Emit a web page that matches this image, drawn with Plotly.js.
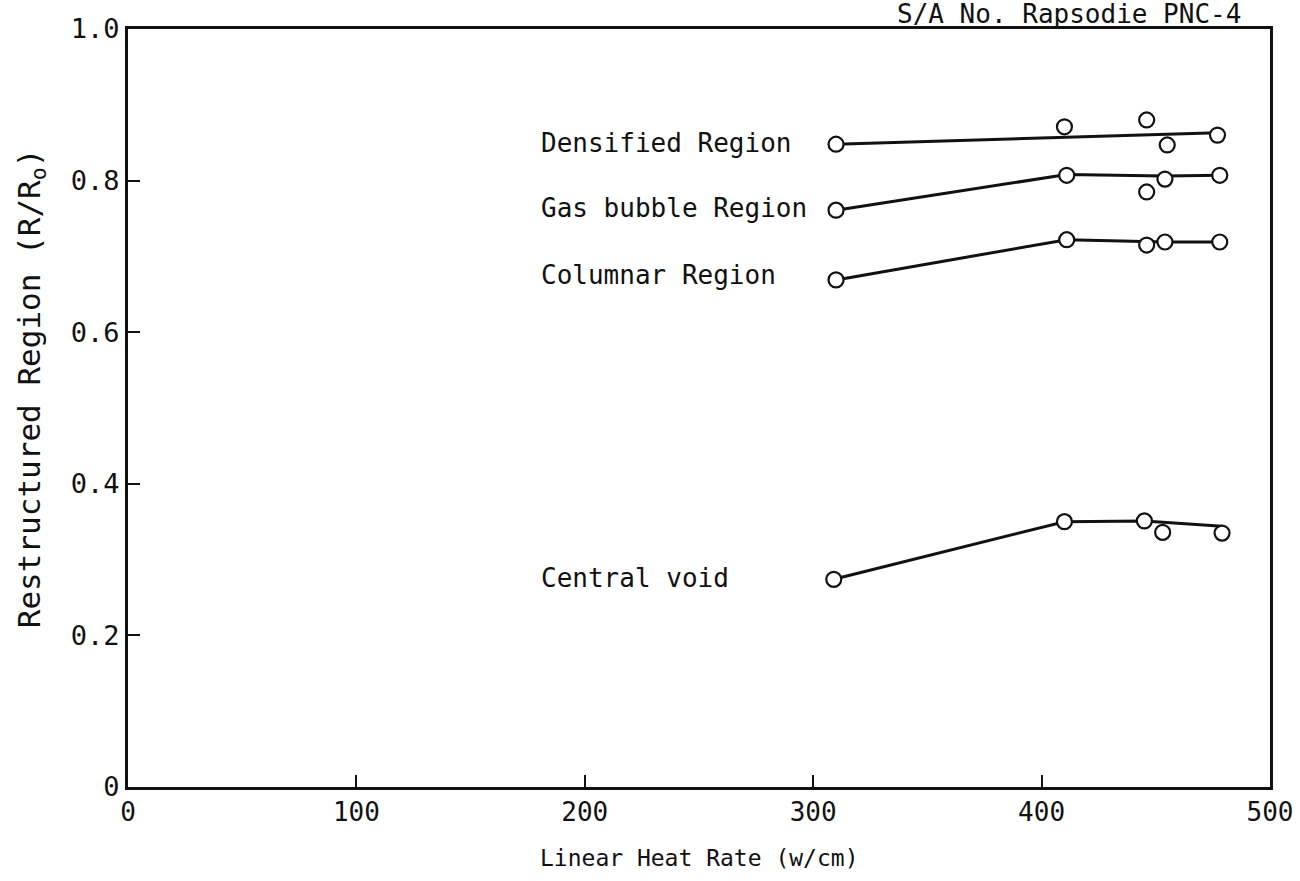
<!DOCTYPE html>
<html>
<head>
<meta charset="utf-8">
<script src="https://cdn.plot.ly/plotly-3.0.1.min.js"></script>
<style>html,body{margin:0;padding:0;background:#fff;}#chart{width:1300px;height:881px;}</style>
</head>
<body>
<div id="chart"></div>
<script>
// Measured points: Linear heat rate (w/cm) vs R/Ro
const densX = [310, 410, 446, 455, 477];
const densY = [0.848, 0.871, 0.880, 0.847, 0.860];
const gasX = [310, 411, 446, 454, 478];
const gasY = [0.761, 0.807, 0.785, 0.802, 0.807];
const colX = [310, 411, 446, 454, 478];
const colY = [0.669, 0.722, 0.715, 0.719, 0.719];
const voidX = [309, 410, 445, 453, 479];
const voidY = [0.274, 0.350, 0.351, 0.336, 0.335];

// Trend lines drawn through the data
const densLineX = [310, 477];
const densLineY = [0.848, 0.863];
const gasLineX = [310, 411, 454, 478];
const gasLineY = [0.761, 0.808, 0.806, 0.807];
const colLineX = [310, 411, 454, 478];
const colLineY = [0.669, 0.722, 0.719, 0.719];
const voidLineX = [309, 410, 445, 479];
const voidLineY = [0.274, 0.350, 0.351, 0.344];

const regionLabels = ["Densified Region", "Gas bubble Region", "Columnar Region", "Central void"];
const labelY = [0.849, 0.764, 0.675, 0.276];
const labelX = 180;

const xTicks = [0, 100, 200, 300, 400, 500];
const xTickText = ["0", "100", "200", "300", "400", "500"];
const yTicks = [0, 0.2, 0.4, 0.6, 0.8, 1.0];
const yTickText = ["0", "0.2", "0.4", "0.6", "0.8", "1.0"];

const FONT = "DejaVu Sans Mono, Liberation Mono, monospace";

function lineTrace(x, y) {
  return {x: x, y: y, mode: "lines", type: "scatter", line: {color: "#111", width: 3}, hoverinfo: "skip", showlegend: false};
}
function markTrace(x, y) {
  return {x: x, y: y, mode: "markers", type: "scatter",
    marker: {symbol: "circle", size: 15, color: "#fff", line: {color: "#111", width: 2.2}}, showlegend: false};
}

const data = [
  lineTrace(densLineX, densLineY), lineTrace(gasLineX, gasLineY),
  lineTrace(colLineX, colLineY), lineTrace(voidLineX, voidLineY),
  markTrace(densX, densY), markTrace(gasX, gasY), markTrace(colX, colY), markTrace(voidX, voidY)
];

const annotations = regionLabels.map((t, i) => ({
  text: t, x: labelX, y: labelY[i], xref: "x", yref: "y", xanchor: "left", yanchor: "middle",
  showarrow: false, font: {family: FONT, size: 26, color: "#111"}
}));
annotations.push({
  text: "S/A No. Rapsodie PNC-4", x: 488, y: 1, xref: "x", yref: "paper",
  xanchor: "right", yanchor: "bottom", yshift: -2, showarrow: false,
  font: {family: FONT, size: 26, color: "#111"}
});
annotations.push({
  text: "Linear Heat Rate (w/cm)", x: 250, y: -0.094, xref: "x", yref: "paper",
  xanchor: "center", yanchor: "middle", showarrow: false,
  font: {family: FONT, size: 23, color: "#111"}
});
annotations.push({
  text: "Restructured Region (R/R<sub>o</sub>)", x: -0.085, y: 0.526, xref: "paper", yref: "paper",
  xanchor: "center", yanchor: "middle", textangle: -90, showarrow: false,
  font: {family: FONT, size: 31, color: "#111"}
});

const layout = {
  width: 1300, height: 881,
  margin: {l: 128, r: 30, t: 29, b: 94},
  paper_bgcolor: "#fff", plot_bgcolor: "#fff",
  font: {family: FONT, color: "#111"},
  showlegend: false,
  xaxis: {
    range: [0, 500], tickvals: xTicks, ticktext: xTickText,
    ticks: "inside", ticklen: 12, tickwidth: 2, tickcolor: "#111",
    showline: true, linecolor: "#111", linewidth: 3, mirror: true,
    showgrid: false, zeroline: false,
    tickfont: {family: FONT, size: 26, color: "#111"}
  },
  yaxis: {
    range: [0, 1.0], tickvals: yTicks, ticktext: yTickText,
    ticks: "inside", ticklen: 12, tickwidth: 2, tickcolor: "#111",
    showline: true, linecolor: "#111", linewidth: 3, mirror: true,
    showgrid: false, zeroline: false,
    tickfont: {family: FONT, size: 27, color: "#111"}
  },
  annotations: annotations
};

Plotly.newPlot("chart", data, layout, {displayModeBar: false, staticPlot: true});
</script>
</body>
</html>
